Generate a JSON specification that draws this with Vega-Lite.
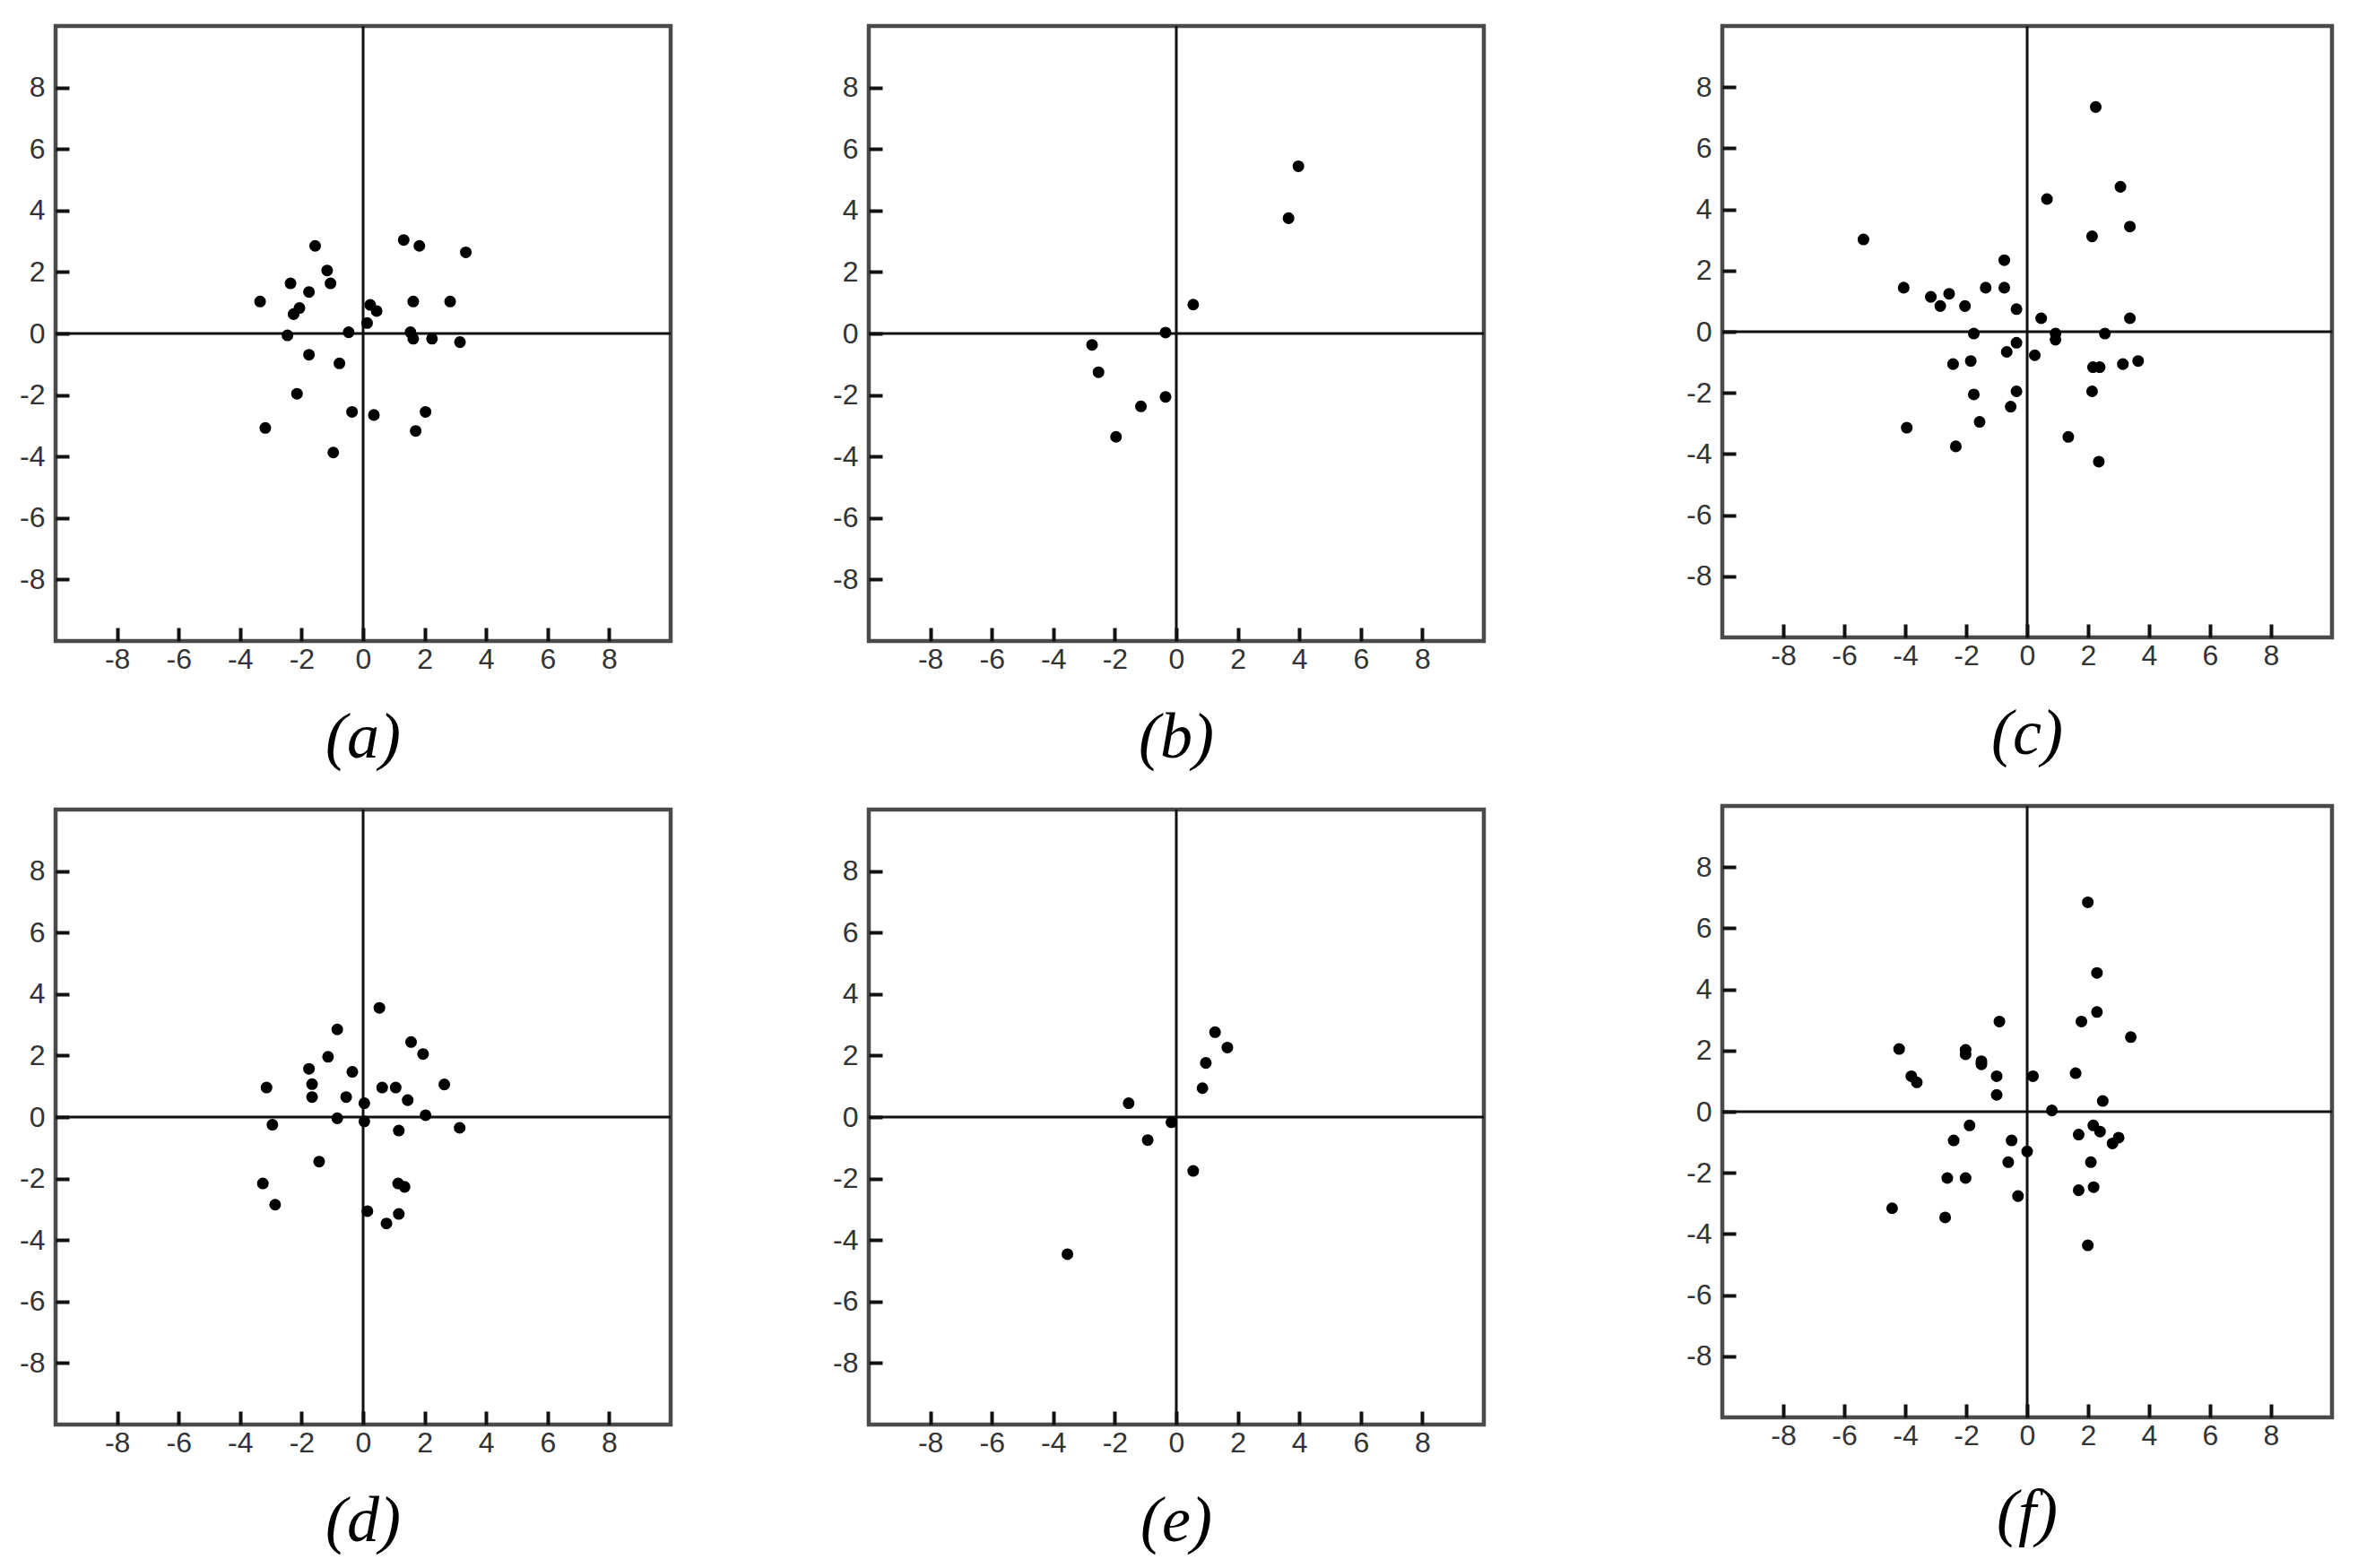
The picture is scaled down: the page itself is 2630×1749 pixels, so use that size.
{
  "$schema": "https://vega.github.io/schema/vega-lite/v6.json",
  "background": "white",
  "padding": {"left": 19, "top": 25, "right": 10, "bottom": 10},
  "datasets": {
    "pts": [
      {"p":"a","x":-1.56,"y":2.85},{"p":"a","x":1.32,"y":3.04},{"p":"a","x":1.83,"y":2.85},{"p":"a","x":3.34,"y":2.64},
      {"p":"a","x":-1.17,"y":2.05},{"p":"a","x":-1.06,"y":1.63},{"p":"a","x":-2.36,"y":1.63},{"p":"a","x":-1.76,"y":1.35},
      {"p":"a","x":-3.35,"y":1.04},{"p":"a","x":-2.07,"y":0.83},{"p":"a","x":-2.26,"y":0.63},{"p":"a","x":0.23,"y":0.93},
      {"p":"a","x":0.44,"y":0.73},{"p":"a","x":1.63,"y":1.04},{"p":"a","x":2.83,"y":1.04},{"p":"a","x":0.13,"y":0.34},
      {"p":"a","x":-0.47,"y":0.04},{"p":"a","x":-2.46,"y":-0.06},{"p":"a","x":1.54,"y":0.04},{"p":"a","x":1.63,"y":-0.17},
      {"p":"a","x":2.24,"y":-0.17},{"p":"a","x":3.15,"y":-0.28},{"p":"a","x":-1.76,"y":-0.69},{"p":"a","x":-0.77,"y":-0.97},
      {"p":"a","x":-2.15,"y":-1.96},{"p":"a","x":-0.36,"y":-2.55},{"p":"a","x":0.35,"y":-2.65},{"p":"a","x":2.03,"y":-2.55},
      {"p":"a","x":-3.18,"y":-3.07},{"p":"a","x":1.71,"y":-3.17},{"p":"a","x":-0.97,"y":-3.87},

      {"p":"b","x":3.97,"y":5.44},{"p":"b","x":3.65,"y":3.75},{"p":"b","x":0.55,"y":0.94},{"p":"b","x":-0.35,"y":0.03},
      {"p":"b","x":-2.74,"y":-0.37},{"p":"b","x":-2.53,"y":-1.26},{"p":"b","x":-0.35,"y":-2.06},{"p":"b","x":-1.15,"y":-2.37},
      {"p":"b","x":-1.96,"y":-3.36},

      {"p":"c","x":2.25,"y":7.35},{"p":"c","x":3.06,"y":4.74},{"p":"c","x":0.65,"y":4.34},{"p":"c","x":3.37,"y":3.44},
      {"p":"c","x":2.13,"y":3.12},{"p":"c","x":-5.37,"y":3.02},{"p":"c","x":-0.75,"y":2.34},{"p":"c","x":-4.05,"y":1.44},
      {"p":"c","x":-1.36,"y":1.44},{"p":"c","x":-0.75,"y":1.44},{"p":"c","x":-2.56,"y":1.24},{"p":"c","x":-3.16,"y":1.14},
      {"p":"c","x":-2.85,"y":0.84},{"p":"c","x":-2.04,"y":0.84},{"p":"c","x":-0.35,"y":0.74},{"p":"c","x":0.46,"y":0.44},
      {"p":"c","x":3.37,"y":0.44},{"p":"c","x":-1.75,"y":-0.06},{"p":"c","x":0.93,"y":-0.06},{"p":"c","x":0.93,"y":-0.26},
      {"p":"c","x":2.55,"y":-0.06},{"p":"c","x":-0.35,"y":-0.36},{"p":"c","x":-0.67,"y":-0.66},{"p":"c","x":0.25,"y":-0.77},
      {"p":"c","x":-2.43,"y":-1.06},{"p":"c","x":-1.85,"y":-0.96},{"p":"c","x":2.16,"y":-1.16},{"p":"c","x":2.38,"y":-1.16},
      {"p":"c","x":3.14,"y":-1.06},{"p":"c","x":3.64,"y":-0.96},{"p":"c","x":-1.75,"y":-2.05},{"p":"c","x":-0.35,"y":-1.95},
      {"p":"c","x":2.13,"y":-1.95},{"p":"c","x":-0.54,"y":-2.45},{"p":"c","x":-1.56,"y":-2.95},{"p":"c","x":-3.95,"y":-3.14},
      {"p":"c","x":1.35,"y":-3.44},{"p":"c","x":-2.34,"y":-3.75},{"p":"c","x":2.35,"y":-4.25},

      {"p":"d","x":0.53,"y":3.55},{"p":"d","x":-0.84,"y":2.85},{"p":"d","x":1.56,"y":2.44},{"p":"d","x":1.95,"y":2.05},
      {"p":"d","x":-1.14,"y":1.96},{"p":"d","x":-1.76,"y":1.57},{"p":"d","x":-0.35,"y":1.47},{"p":"d","x":-1.66,"y":1.07},
      {"p":"d","x":-3.14,"y":0.96},{"p":"d","x":0.62,"y":0.96},{"p":"d","x":1.06,"y":0.96},{"p":"d","x":2.64,"y":1.06},
      {"p":"d","x":-1.66,"y":0.65},{"p":"d","x":-0.55,"y":0.65},{"p":"d","x":1.45,"y":0.55},{"p":"d","x":0.04,"y":0.45},
      {"p":"d","x":2.03,"y":0.06},{"p":"d","x":-0.84,"y":-0.04},{"p":"d","x":0.04,"y":-0.14},{"p":"d","x":-2.95,"y":-0.25},
      {"p":"d","x":1.16,"y":-0.44},{"p":"d","x":3.14,"y":-0.35},{"p":"d","x":-1.43,"y":-1.45},{"p":"d","x":-3.26,"y":-2.16},
      {"p":"d","x":1.14,"y":-2.16},{"p":"d","x":1.35,"y":-2.27},{"p":"d","x":-2.86,"y":-2.85},{"p":"d","x":0.14,"y":-3.06},
      {"p":"d","x":1.16,"y":-3.15},{"p":"d","x":0.76,"y":-3.46},

      {"p":"e","x":1.26,"y":2.76},{"p":"e","x":1.66,"y":2.26},{"p":"e","x":0.96,"y":1.76},{"p":"e","x":0.85,"y":0.94},
      {"p":"e","x":-1.55,"y":0.45},{"p":"e","x":-0.16,"y":-0.17},{"p":"e","x":-0.93,"y":-0.75},{"p":"e","x":0.55,"y":-1.75},
      {"p":"e","x":-3.54,"y":-4.46},

      {"p":"f","x":1.99,"y":6.85},{"p":"f","x":2.29,"y":4.54},{"p":"f","x":2.29,"y":3.26},{"p":"f","x":-0.91,"y":2.95},
      {"p":"f","x":1.78,"y":2.95},{"p":"f","x":3.4,"y":2.44},{"p":"f","x":-4.2,"y":2.05},{"p":"f","x":-2.02,"y":2.02},
      {"p":"f","x":-2.02,"y":1.88},{"p":"f","x":-1.5,"y":1.65},{"p":"f","x":-1.5,"y":1.55},{"p":"f","x":-3.8,"y":1.16},
      {"p":"f","x":-3.62,"y":0.96},{"p":"f","x":-1.0,"y":1.16},{"p":"f","x":0.19,"y":1.16},{"p":"f","x":1.59,"y":1.26},
      {"p":"f","x":-1.0,"y":0.55},{"p":"f","x":2.48,"y":0.35},{"p":"f","x":0.81,"y":0.04},{"p":"f","x":-1.89,"y":-0.45},
      {"p":"f","x":2.17,"y":-0.45},{"p":"f","x":2.39,"y":-0.65},{"p":"f","x":3.0,"y":-0.85},{"p":"f","x":2.8,"y":-1.04},
      {"p":"f","x":-2.41,"y":-0.94},{"p":"f","x":-0.51,"y":-0.94},{"p":"f","x":1.69,"y":-0.75},{"p":"f","x":0.0,"y":-1.3},
      {"p":"f","x":-0.62,"y":-1.65},{"p":"f","x":2.09,"y":-1.65},{"p":"f","x":-2.62,"y":-2.17},{"p":"f","x":-2.02,"y":-2.17},
      {"p":"f","x":2.18,"y":-2.47},{"p":"f","x":1.69,"y":-2.57},{"p":"f","x":-0.3,"y":-2.76},{"p":"f","x":-4.43,"y":-3.16},
      {"p":"f","x":-2.69,"y":-3.46},{"p":"f","x":1.99,"y":-4.37}
    ],
    "one": [{}]
  },
  "hconcat": [
    {
      "hconcat": [
        {
          "vconcat": [
            {
              "width": 686, "height": 686, "title": {"text": "(a)"},
              "layer": [
                {"data": {"name": "one"}, "mark": {"type": "rule", "color": "#111", "strokeWidth": 3}, "encoding": {"x": {"datum": 0, "type": "quantitative", "scale": {"domain": [-10, 10]}, "title": null}}},
                {"data": {"name": "one"}, "mark": {"type": "rule", "color": "#111", "strokeWidth": 3}, "encoding": {"y": {"datum": 0, "type": "quantitative", "scale": {"domain": [-10, 10]}, "title": null}}},
                {"data": {"name": "pts"}, "transform": [{"filter": "datum.p === 'a'"}], "mark": {"type": "circle", "size": 170, "color": "black", "opacity": 1},
                 "encoding": {"x": {"field": "x", "type": "quantitative", "scale": {"domain": [-10, 10]}, "title": null, "axis": {"values": [-8, -6, -4, -2, 0, 2, 4, 6, 8], "labelPadding": 20}},
                              "y": {"field": "y", "type": "quantitative", "scale": {"domain": [-10, 10]}, "title": null, "axis": {"values": [-8, -6, -4, -2, 0, 2, 4, 6, 8], "labelPadding": 27}}}}
              ]
            },
            {
              "width": 686, "height": 686, "title": {"text": "(d)"},
              "layer": [
                {"data": {"name": "one"}, "mark": {"type": "rule", "color": "#111", "strokeWidth": 3}, "encoding": {"x": {"datum": 0, "type": "quantitative", "scale": {"domain": [-10, 10]}, "title": null}}},
                {"data": {"name": "one"}, "mark": {"type": "rule", "color": "#111", "strokeWidth": 3}, "encoding": {"y": {"datum": 0, "type": "quantitative", "scale": {"domain": [-10, 10]}, "title": null}}},
                {"data": {"name": "pts"}, "transform": [{"filter": "datum.p === 'd'"}], "mark": {"type": "circle", "size": 170, "color": "black", "opacity": 1},
                 "encoding": {"x": {"field": "x", "type": "quantitative", "scale": {"domain": [-10, 10]}, "title": null, "axis": {"values": [-8, -6, -4, -2, 0, 2, 4, 6, 8], "labelPadding": 20}},
                              "y": {"field": "y", "type": "quantitative", "scale": {"domain": [-10, 10]}, "title": null, "axis": {"values": [-8, -6, -4, -2, 0, 2, 4, 6, 8], "labelPadding": 27}}}}
              ]
            }
          ],
          "spacing": 188, "bounds": "flush"
        },
        {
          "vconcat": [
            {
              "width": 686, "height": 686, "title": {"text": "(b)"},
              "layer": [
                {"data": {"name": "one"}, "mark": {"type": "rule", "color": "#111", "strokeWidth": 3}, "encoding": {"x": {"datum": 0, "type": "quantitative", "scale": {"domain": [-10, 10]}, "title": null}}},
                {"data": {"name": "one"}, "mark": {"type": "rule", "color": "#111", "strokeWidth": 3}, "encoding": {"y": {"datum": 0, "type": "quantitative", "scale": {"domain": [-10, 10]}, "title": null}}},
                {"data": {"name": "pts"}, "transform": [{"filter": "datum.p === 'b'"}], "mark": {"type": "circle", "size": 170, "color": "black", "opacity": 1},
                 "encoding": {"x": {"field": "x", "type": "quantitative", "scale": {"domain": [-10, 10]}, "title": null, "axis": {"values": [-8, -6, -4, -2, 0, 2, 4, 6, 8], "labelPadding": 20}},
                              "y": {"field": "y", "type": "quantitative", "scale": {"domain": [-10, 10]}, "title": null, "axis": {"values": [-8, -6, -4, -2, 0, 2, 4, 6, 8], "labelPadding": 27}}}}
              ]
            },
            {
              "width": 686, "height": 686, "title": {"text": "(e)"},
              "layer": [
                {"data": {"name": "one"}, "mark": {"type": "rule", "color": "#111", "strokeWidth": 3}, "encoding": {"x": {"datum": 0, "type": "quantitative", "scale": {"domain": [-10, 10]}, "title": null}}},
                {"data": {"name": "one"}, "mark": {"type": "rule", "color": "#111", "strokeWidth": 3}, "encoding": {"y": {"datum": 0, "type": "quantitative", "scale": {"domain": [-10, 10]}, "title": null}}},
                {"data": {"name": "pts"}, "transform": [{"filter": "datum.p === 'e'"}], "mark": {"type": "circle", "size": 170, "color": "black", "opacity": 1},
                 "encoding": {"x": {"field": "x", "type": "quantitative", "scale": {"domain": [-10, 10]}, "title": null, "axis": {"values": [-8, -6, -4, -2, 0, 2, 4, 6, 8], "labelPadding": 20}},
                              "y": {"field": "y", "type": "quantitative", "scale": {"domain": [-10, 10]}, "title": null, "axis": {"values": [-8, -6, -4, -2, 0, 2, 4, 6, 8], "labelPadding": 27}}}}
              ]
            }
          ],
          "spacing": 188, "bounds": "flush"
        }
      ],
      "spacing": 174
    },
    {
      "vconcat": [
        {
          "width": 680, "height": 682, "title": {"text": "(c)"},
          "layer": [
            {"data": {"name": "one"}, "mark": {"type": "rule", "color": "#111", "strokeWidth": 3}, "encoding": {"x": {"datum": 0, "type": "quantitative", "scale": {"domain": [-10, 10]}, "title": null}}},
            {"data": {"name": "one"}, "mark": {"type": "rule", "color": "#111", "strokeWidth": 3}, "encoding": {"y": {"datum": 0, "type": "quantitative", "scale": {"domain": [-10, 10]}, "title": null}}},
            {"data": {"name": "pts"}, "transform": [{"filter": "datum.p === 'c'"}], "mark": {"type": "circle", "size": 170, "color": "black", "opacity": 1},
             "encoding": {"x": {"field": "x", "type": "quantitative", "scale": {"domain": [-10, 10]}, "title": null, "axis": {"values": [-8, -6, -4, -2, 0, 2, 4, 6, 8], "labelPadding": 20}},
                          "y": {"field": "y", "type": "quantitative", "scale": {"domain": [-10, 10]}, "title": null, "axis": {"values": [-8, -6, -4, -2, 0, 2, 4, 6, 8], "labelPadding": 27}}}}
          ]
        },
        {
          "width": 680, "height": 682, "title": {"text": "(f)"},
          "layer": [
            {"data": {"name": "one"}, "mark": {"type": "rule", "color": "#111", "strokeWidth": 3}, "encoding": {"x": {"datum": 0, "type": "quantitative", "scale": {"domain": [-10, 10]}, "title": null}}},
            {"data": {"name": "one"}, "mark": {"type": "rule", "color": "#111", "strokeWidth": 3}, "encoding": {"y": {"datum": 0, "type": "quantitative", "scale": {"domain": [-10, 10]}, "title": null}}},
            {"data": {"name": "pts"}, "transform": [{"filter": "datum.p === 'f'"}], "mark": {"type": "circle", "size": 170, "color": "black", "opacity": 1},
             "encoding": {"x": {"field": "x", "type": "quantitative", "scale": {"domain": [-10, 10]}, "title": null, "axis": {"values": [-8, -6, -4, -2, 0, 2, 4, 6, 8], "labelPadding": 20}},
                          "y": {"field": "y", "type": "quantitative", "scale": {"domain": [-10, 10]}, "title": null, "axis": {"values": [-8, -6, -4, -2, 0, 2, 4, 6, 8], "labelPadding": 27}}}}
          ]
        }
      ],
      "spacing": 188, "bounds": "flush"
    }
  ],
  "spacing": 219,
  "config": {
    "view": {"stroke": "#4a4a4a", "strokeWidth": 4.5},
    "axis": {
      "grid": false, "domain": false,
      "tickSize": -15, "tickWidth": 4, "tickColor": "#111",
      "labelFont": "Liberation Sans", "labelFontSize": 32, "labelColor": "#333333",
      "labelExpr": "datum.value", "labelFlush": false, "labelOverlap": false
    },
    "title": {"orient": "bottom", "font": "Liberation Serif", "fontStyle": "italic", "fontWeight": "normal", "fontSize": 72, "color": "black", "offset": 37, "anchor": "middle"}
  }
}
